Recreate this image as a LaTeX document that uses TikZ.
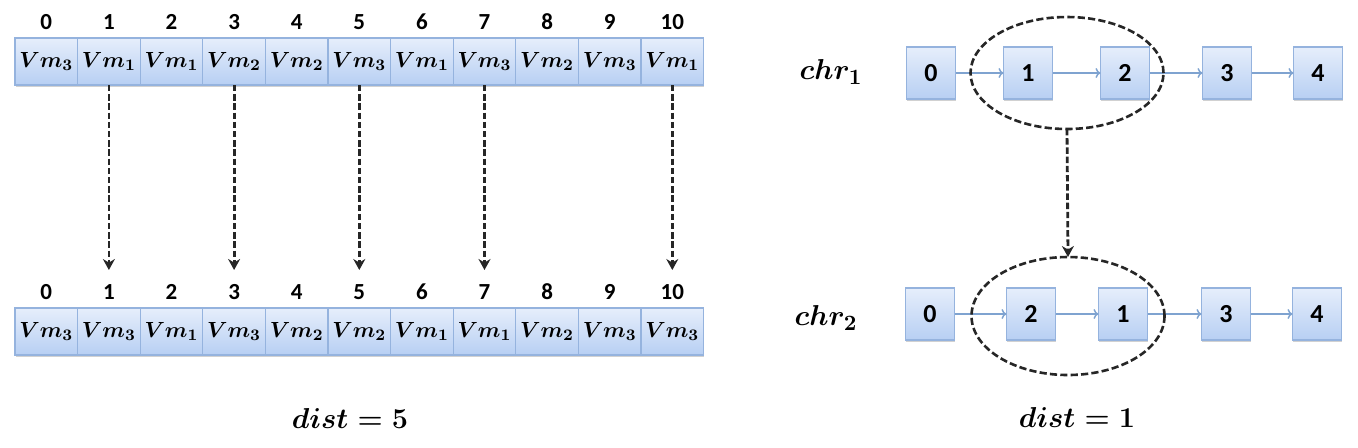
\documentclass[tikz,border=0pt]{standalone}
\usepackage{fontspec}
\setmainfont{Carlito}
\usepackage{amsmath}
\usetikzlibrary{arrows.meta,shapes.geometric,shadows}
\definecolor{cellline}{HTML}{95B3DE}
\definecolor{celltop}{HTML}{E6EEFB}
\definecolor{cellbot}{HTML}{B7CFF3}
\definecolor{linkblue}{HTML}{7FA3D0}
\tikzset{
  cell/.style={draw=cellline, line width=0.6pt, top color=celltop, bottom color=cellbot,
    minimum width=31.3pt, minimum height=23.5pt, inner sep=0pt, outer sep=0pt,
    font=\fontsize{11}{12}\selectfont\boldmath,
    drop shadow={shadow xshift=0.3pt, shadow yshift=-0.9pt, opacity=0.3, fill=black!60}},
  idx/.style={font=\fontsize{11.5}{13}\selectfont\bfseries, inner sep=0pt},
  gbox/.style={draw=cellline, line width=0.6pt, top color=celltop, bottom color=cellbot,
    minimum width=24.5pt, minimum height=26pt, inner sep=0pt, outer sep=0pt,
    font=\fontsize{13}{15}\selectfont\bfseries,
    drop shadow={shadow xshift=0.3pt, shadow yshift=-0.9pt, opacity=0.3, fill=black!60}},
  dasharrow/.style={draw=black!85, line width=1.4pt, dash pattern=on 3.2pt off 1.4pt,
    -{Stealth[length=5.5pt,width=6pt]}},
  link/.style={draw=linkblue, line width=0.7pt, -{To[length=2.5pt,width=5pt]}},
  ring/.style={ellipse, draw=black!85, line width=1.3pt, dash pattern=on 3.6pt off 1.6pt,
    inner sep=0pt, outer sep=0pt},
  lbl/.style={inner sep=0pt, font=\fontsize{15}{17}\selectfont\boldmath},
}
\begin{document}
\begin{tikzpicture}[x=0.5pt,y=-0.5pt]
\useasboundingbox (0,0) rectangle (1358,447);
% top array
\foreach \v [count=\i from 0] in {3,1,1,2,2,3,1,3,2,3,1}{
  \node[cell] (t\i) at ({46.3+62.6*\i},61.5) {$Vm_{\v}$};
  \node[idx] (ti\i) at ({46.3+62.6*\i},22) {\i};
}
% bottom array
\foreach \v [count=\i from 0] in {3,3,1,3,2,2,1,1,2,3,3}{
  \node[cell] (b\i) at ({46.3+62.6*\i},331.5) {$Vm_{\v}$};
  \node[idx] (bi\i) at ({46.3+62.6*\i},292) {\i};
}
% dashed arrows
\foreach \i in {1,3,5,7,10}{
  \coordinate (a\i) at ({46.3+62.6*\i},270);
  \draw[dasharrow] (t\i.south) -- (a\i);
}
\node[lbl, font=\fontsize{15.5}{17}\selectfont\boldmath] (d5) at (350,418) {$dist=5$};

% right part
\node[lbl] (c1) at (831,72) {$chr_1$};
\node[lbl] (c2) at (826,318) {$chr_2$};
\node[gbox] (p0) at (931,73) {0};
\node[gbox] (p1) at (1028,73) {1};
\node[gbox] (p2) at (1125,73) {2};
\node[gbox] (p3) at (1227,73) {3};
\node[gbox] (p4) at (1318,73) {4};
\node[gbox] (q0) at (930,314) {0};
\node[gbox] (q1) at (1031,314) {2};
\node[gbox] (q2) at (1123,314) {1};
\node[gbox] (q3) at (1226,314) {3};
\node[gbox] (q4) at (1317,314) {4};
\foreach \a/\b in {0/1,1/2,2/3,3/4}{
  \draw[link] (p\a) -- (p\b);
  \draw[link] (q\a) -- (q\b);
}
\node[ring, minimum width=96.5pt, minimum height=56pt] (e1) at (1067,73) {};
\node[ring, minimum width=96.5pt, minimum height=59pt] (e2) at (1068,316) {};
\draw[dasharrow] (e1.south) -- (e2.north);
\node[lbl, font=\fontsize{14}{16}\selectfont\boldmath] (d1) at (1077,417) {$dist=1$};
\end{tikzpicture}
\end{document}
